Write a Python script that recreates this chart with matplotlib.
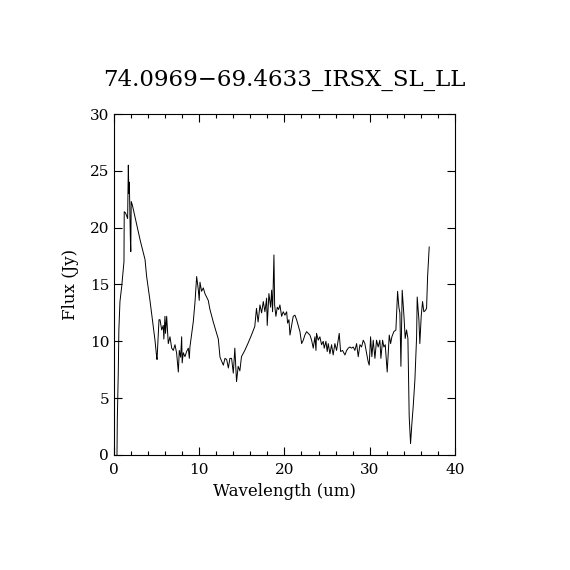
import matplotlib
matplotlib.use('Agg')
import matplotlib.pyplot as plt
from matplotlib.ticker import MultipleLocator

# spectrum
wave = [0.35, 0.39, 0.50, 0.57, 0.70, 0.90, 1.05, 1.17, 1.20, 1.35, 1.50, 1.60,
        1.68, 1.75, 1.80, 1.88, 1.92, 1.97, 2.02, 2.15, 2.60, 3.10, 3.64, 3.83,
        4.22, 4.61, 4.81, 5.00, 5.05,
        5.28, 5.40, 5.60, 5.78, 5.85, 5.98, 6.05, 6.18, 6.37, 6.57, 6.77, 6.96,
        7.16, 7.35, 7.55, 7.66, 7.82, 7.94, 8.00, 8.13, 8.33, 8.52, 8.72, 8.84,
        8.91, 9.30, 9.50, 9.70, 9.90, 10.00, 10.09, 10.28, 10.48, 10.67, 11.06,
        11.26, 11.65, 12.05, 12.24, 12.44, 12.83, 13.02, 13.22, 13.42, 13.60,
        13.80, 14.00, 14.18, 14.38, 14.57, 14.77, 14.96, 15.35, 15.74, 16.13,
        16.52, 16.72, 16.91, 17.13, 17.32, 17.52, 17.71, 17.91, 17.98, 18.18,
        18.38, 18.50, 18.61, 18.77, 18.85, 19.00, 19.16, 19.32, 19.47, 19.67,
        19.86, 20.06, 20.26, 20.37, 20.53, 20.65, 20.84, 21.03, 21.23, 21.43,
        21.62, 21.82, 22.02, 22.21, 22.40, 22.60, 22.80, 22.99, 23.19, 23.38,
        23.58, 23.70, 23.77, 23.97, 24.16, 24.36, 24.55, 24.67, 24.87, 25.02,
        25.14, 25.34, 25.53, 25.72, 25.92, 26.12, 26.31, 26.43, 26.59, 26.82,
        27.10, 27.30, 27.49, 27.68, 27.88, 28.07, 28.27, 28.47, 28.66, 28.86,
        29.05, 29.25, 29.44, 29.64, 29.83, 29.95, 30.11, 30.26, 30.42, 30.62,
        30.81, 31.00, 31.20, 31.32, 31.52, 31.67, 31.83, 32.06, 32.30, 32.46,
        32.61, 32.84, 33.08, 33.28, 33.43, 33.55, 33.67, 33.82, 34.02, 34.17,
        34.33, 34.49, 34.64, 34.80, 34.96, 35.11, 35.31, 35.51, 35.58, 35.78,
        35.89, 36.05, 36.21, 36.36, 36.52, 36.68, 36.80, 36.99]
flux = [0.0, 3.2, 7.2, 11.0, 13.5, 14.8, 16.0, 17.0, 21.4, 21.3, 21.0, 20.8,
        25.5, 23.0, 24.0, 20.7, 19.0, 17.9, 22.3, 22.0, 20.5, 18.8, 17.2, 15.7,
        13.6, 11.3, 10.1, 8.65, 8.4,
        11.9, 11.9, 11.0, 11.4, 10.2, 12.2, 10.7, 12.2, 9.8, 10.4, 9.4, 9.2,
        9.7, 8.95, 7.3, 9.2, 8.6, 10.4, 8.1, 9.0, 8.65, 9.1, 9.4, 8.5,
        9.5, 11.7, 13.4, 15.7, 14.5, 13.6, 15.2, 14.4, 14.7, 14.2, 13.6,
        12.8, 11.7, 10.7, 10.2, 8.6, 7.9, 8.5, 8.4, 7.65, 8.5,
        8.5, 7.2, 9.4, 6.45, 7.8, 7.4, 8.65, 9.2, 9.85, 10.55,
        11.3, 12.9, 11.7, 13.2, 12.5, 13.5, 12.6, 13.8, 11.4, 14.2,
        13.0, 14.5, 12.6, 17.6, 13.2, 12.2, 13.0, 12.8, 13.2, 12.2,
        12.6, 12.3, 12.6, 11.6, 11.9, 10.55, 11.4, 12.2, 12.3, 11.9,
        11.4, 10.85, 9.8, 10.1, 10.55, 10.85, 10.7, 10.55, 10.1, 9.4,
        10.4, 9.2, 10.7, 10.1, 10.4, 9.7, 10.0, 9.4, 10.0, 9.1,
        9.8, 8.9, 9.7, 8.8, 9.8, 9.2, 10.1, 10.7, 9.1, 9.2,
        8.8, 9.2, 9.4, 9.5, 9.4, 9.5, 9.2, 9.8, 8.65, 9.7,
        9.5, 10.1, 9.8, 8.95, 8.2, 7.9, 10.4, 8.65, 10.1, 8.5,
        10.1, 9.5, 10.1, 8.5, 10.1, 9.5, 9.7, 7.3, 10.55, 9.8,
        10.4, 10.85, 11.0, 14.4, 13.0, 12.5, 7.8, 14.5, 12.3, 10.25,
        11.0, 10.25, 3.4, 1.0, 2.8, 4.25, 6.6, 10.4, 13.9, 11.9,
        9.8, 12.2, 13.5, 12.6, 12.7, 12.9, 15.7, 18.3]

title = '74.0969\u221269.4633_IRSX_SL_LL'

plt.rcParams['font.family'] = ['DejaVu Serif']

fig = plt.figure(figsize=(5.7, 5.7), dpi=100)
ax = fig.add_axes([0.2, 0.2018, 0.598, 0.5982])

ax.plot(wave, flux, color='black', lw=0.7)

ax.set_xlim(0, 40)
ax.set_ylim(0, 30)
ax.xaxis.set_major_locator(MultipleLocator(10))
ax.xaxis.set_minor_locator(MultipleLocator(2))
ax.yaxis.set_major_locator(MultipleLocator(5))
ax.tick_params(which='both', direction='in', top=True, right=True,
               labelsize=11, width=0.8)
ax.tick_params(which='major', length=6)
ax.tick_params(which='minor', length=3)
ax.tick_params(axis='x', pad=6)
for s in ax.spines.values():
    s.set_linewidth(0.8)

ax.set_xlabel('Wavelength (um)', fontsize=12, labelpad=4)
ax.set_ylabel('Flux (Jy)', fontsize=12, labelpad=8)
ax.set_title(title, fontsize=16.5, pad=20)

fig.savefig('out.png', dpi=100)
